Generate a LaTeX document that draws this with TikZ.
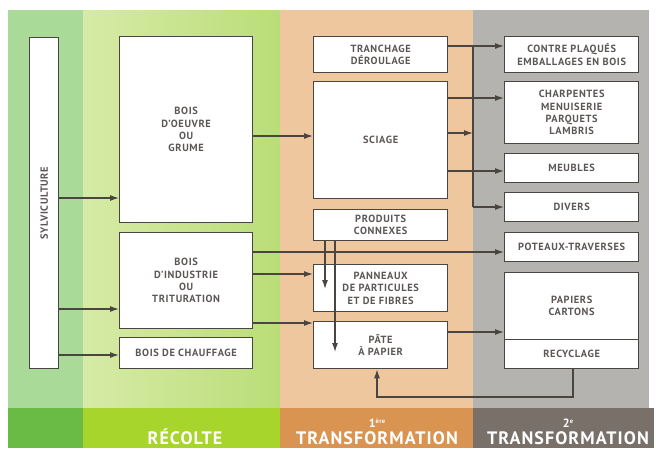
\documentclass[tikz,border=0pt]{standalone}
\usepackage{fontspec}
\setmainfont{PT Sans}
\usetikzlibrary{arrows.meta}
\definecolor{woodline}{HTML}{4B4542}
\definecolor{boxtext}{HTML}{5C5755}
\definecolor{sylvbg}{HTML}{A9DA98}
\definecolor{recolteA}{HTML}{D6EBA6}
\definecolor{recolteB}{HTML}{BADD78}
\definecolor{transAbg}{HTML}{EEC79E}
\definecolor{transBbg}{HTML}{B5B3B0}
\definecolor{sylvband}{HTML}{6ABB45}
\definecolor{recolteband}{HTML}{A8D52B}
\definecolor{transAband}{HTML}{D89450}
\definecolor{transBband}{HTML}{79706A}
\tikzset{
  stage/.style={draw=woodline,line width=1.3pt,fill=white,align=center,text=boxtext,
    font=\bfseries\fontsize{10.4}{12.3}\selectfont\addfontfeature{LetterSpace=6},
    inner sep=0pt,anchor=north west,minimum width=134pt},
  flow/.style={woodline,line width=1.2pt,-{Latex[length=9pt,width=6pt]}},
  bandlabel/.style={text=white,align=center,inner sep=0pt,
    font=\bfseries\fontsize{18}{20}\selectfont\addfontfeature{LetterSpace=6}}
}
\begin{document}
\begin{tikzpicture}[x=1pt,y=-1pt]
  \useasboundingbox[fill=white] (0,0) rectangle (656,448);
  \fill[sylvbg] (8,10) rectangle (83,408);
  \shade[left color=recolteA,right color=recolteB] (83,10) rectangle (280,408);
  \fill[transAbg] (280,10) rectangle (473,408);
  \fill[transBbg] (473,10) rectangle (649,408);
  \fill[sylvband] (8,408) rectangle (83,448);
  \fill[recolteband] (83,408) rectangle (280,448);
  \fill[transAband] (280,408) rectangle (473,448);
  \fill[transBband] (473,408) rectangle (654,448);

  \node[bandlabel,anchor=base] (recolte) at (185,444) {RÉCOLTE};
  \node[bandlabel,anchor=base] (premiere) at (377,444)
    {{\fontsize{12}{12}\selectfont 1\raisebox{3.5pt}{\fontsize{6.5}{7}\selectfont ère}}\\[-3pt]TRANSFORMATION};
  \node[bandlabel,anchor=base] (seconde) at (568,444)
    {{\fontsize{12}{12}\selectfont 2\raisebox{3.5pt}{\fontsize{6.5}{7}\selectfont e}}\\[-3pt]TRANSFORMATION};

  \node[stage,minimum width=29pt,minimum height=331pt] (sylv) at (29,37) {\rotatebox{90}{SYLVICULTURE}};
  \node[stage,minimum width=133pt,minimum height=186pt] (oeuvre) at (119,36) {BOIS\\D'OEUVRE\\OU\\GRUME};
  \node[stage,minimum width=133pt,minimum height=96pt] (industrie) at (119,232) {BOIS\\D'INDUSTRIE\\OU\\TRITURATION};
  \node[stage,minimum width=133pt,minimum height=31pt] (chauffage) at (119,337) {BOIS DE CHAUFFAGE};

  \node[stage,minimum height=36pt] (tranchage) at (313,36) {TRANCHAGE\\DÉROULAGE};
  \node[stage,minimum height=117pt] (sciage) at (313,81) {SCIAGE};
  \node[stage,minimum height=31pt] (connexes) at (313,209) {PRODUITS\\CONNEXES};
  \node[stage,minimum height=47pt] (panneaux) at (313,264) {PANNEAUX\\DE PARTICULES\\ET DE FIBRES};
  \node[stage,minimum height=47pt] (pate) at (313,321) {PÂTE\\À PAPIER};

  \node[stage,minimum height=36pt] (contre) at (504,36) {CONTRE PLAQUÉS\\EMBALLAGES EN BOIS};
  \node[stage,minimum height=62pt] (charpentes) at (504,81) {CHARPENTES\\MENUISERIE\\PARQUETS\\LAMBRIS};
  \node[stage,minimum height=29pt] (meubles) at (504,153) {MEUBLES};
  \node[stage,minimum height=29pt] (divers) at (504,192) {DIVERS};
  \node[stage,minimum height=29pt] (poteaux) at (504,232) {POTEAUX-TRAVERSES};
  \node[stage,minimum height=67pt] (papiers) at (504,272) {PAPIERS\\CARTONS};
  \node[stage,minimum height=29pt] (recyclage) at (504,339) {RECYCLAGE};

  \coordinate (hub) at (473,46);
  \coordinate (hubend) at (473,207);
  \coordinate (dropA) at (325,289);
  \coordinate (dropB) at (335,352);
  \coordinate (loop) at (377,397);

  \draw[flow] (sylv.east |- 0,198) -- (oeuvre.west |- 0,198);
  \draw[flow] (sylv.east |- 0,309) -- (industrie.west |- 0,309);
  \draw[flow] (sylv.east |- 0,355) -- (chauffage.west |- 0,355);
  \draw[flow] (oeuvre.east |- 0,136) -- (sciage.west |- 0,136);
  \draw[flow] (industrie.east |- 0,252) -- (poteaux.west |- 0,252);
  \draw[flow] (industrie.east |- 0,274) -- (panneaux.west |- 0,274);
  \draw[flow] (industrie.east |- 0,323) -- (pate.west |- 0,323);

  \draw[woodline,line width=1.2pt] (tranchage.east |- hub) -- (hub) -- (hubend);
  \draw[flow] (hub) -- (contre.west |- hub);
  \draw[flow] (hubend) -- (divers.west |- hubend);
  \draw[flow] (sciage.east |- 0,98) -- (charpentes.west |- 0,98);
  \draw[flow] (sciage.east |- 0,133) -- (hub |- 0,133);
  \draw[flow] (sciage.east |- 0,171) -- (meubles.west |- 0,171);

  \draw[flow] (connexes.south -| dropA) -- (dropA);
  \draw[flow] (connexes.south -| dropB) -- (dropB);
  \draw[flow] (pate.east |- 0,332) -- (papiers.west |- 0,332);
  \draw[flow] (recyclage.south -| 573,0) |- (loop) -- (pate.south -| loop);
\end{tikzpicture}
\end{document}
